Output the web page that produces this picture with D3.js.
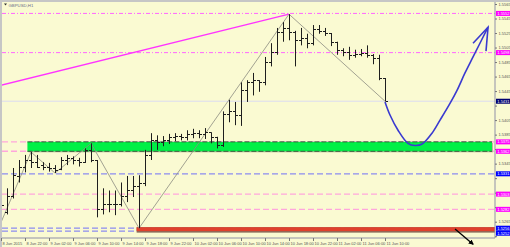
<!DOCTYPE html>
<html>
<head>
<meta charset="utf-8">
<script src="https://cdn.jsdelivr.net/npm/d3@7"></script>
<style>
  html, body { margin: 0; padding: 0; background: #fafad2; }
  svg { display: block; }
  .tick text { font-family: "Liberation Sans", sans-serif; font-size: 4px; fill: #555; }
</style>
</head>
<body>
<div id="chart"></div>
<script>
// ========== DATA (GBPUSD H1, 8 Jun 18:00 -> 11 Jun 10:00) ==========
const opens  = [1.5274,1.5278,1.5300,1.5328,1.5341,1.5350,1.5347,1.5343,1.5340,1.5339,
                1.5337,1.5350,1.5353,1.5350,1.5347,1.5364,1.5350,1.5283,1.5289,1.5290,
                1.5289,1.5300,1.5308,1.5314,1.5319,1.5357,1.5377,1.5375,1.5377,1.5382,
                1.5383,1.5382,1.5386,1.5387,1.5386,1.5388,1.5382,1.5370,1.5413,1.5417,
                1.5412,1.5446,1.5457,1.5460,1.5457,1.5485,1.5499,1.5526,1.5532,1.5526,
                1.5515,1.5518,1.5511,1.5531,1.5528,1.5525,1.5513,1.5502,1.5499,1.5495,
                1.5496,1.5497,1.5495,1.5491,1.5463];
const highs  = [1.5294,1.5311,1.5339,1.5350,1.5357,1.5361,1.5357,1.5347,1.5346,1.5343,
                1.5354,1.5357,1.5355,1.5353,1.5366,1.5373,1.5350,1.5311,1.5308,1.5308,
                1.5319,1.5328,1.5328,1.5329,1.5364,1.5387,1.5384,1.5383,1.5386,1.5387,
                1.5386,1.5391,1.5393,1.5391,1.5394,1.5388,1.5382,1.5417,1.5433,1.5430,
                1.5457,1.5460,1.5470,1.5460,1.5492,1.5511,1.5532,1.5540,1.5551,1.5528,
                1.5532,1.5524,1.5536,1.5536,1.5532,1.5525,1.5513,1.5504,1.5506,1.5502,
                1.5503,1.5508,1.5496,1.5495,1.5463];
const lows   = [1.5264,1.5275,1.5297,1.5319,1.5333,1.5339,1.5339,1.5336,1.5334,1.5332,
                1.5336,1.5343,1.5344,1.5341,1.5346,1.5347,1.5271,1.5275,1.5278,1.5274,
                1.5286,1.5292,1.5299,1.5256,1.5314,1.5350,1.5364,1.5369,1.5372,1.5376,
                1.5377,1.5377,1.5380,1.5380,1.5379,1.5373,1.5366,1.5368,1.5402,1.5398,
                1.5397,1.5430,1.5439,1.5444,1.5453,1.5479,1.5495,1.5513,1.5515,1.5479,
                1.5508,1.5504,1.5508,1.5524,1.5521,1.5507,1.5495,1.5493,1.5488,1.5491,
                1.5493,1.5491,1.5482,1.5460,1.5431];
const closes = [1.5288,1.5300,1.5329,1.5341,1.5350,1.5347,1.5341,1.5340,1.5339,1.5336,
                1.5350,1.5353,1.5350,1.5347,1.5364,1.5350,1.5283,1.5289,1.5290,1.5289,
                1.5300,1.5308,1.5314,1.5319,1.5357,1.5377,1.5375,1.5377,1.5382,1.5383,
                1.5382,1.5386,1.5387,1.5386,1.5388,1.5382,1.5370,1.5413,1.5417,1.5412,
                1.5446,1.5457,1.5460,1.5457,1.5485,1.5499,1.5526,1.5532,1.5526,1.5515,
                1.5518,1.5511,1.5531,1.5528,1.5525,1.5513,1.5502,1.5499,1.5495,1.5496,
                1.5497,1.5495,1.5491,1.5463,1.5431];

// time axis (every 4th bar)
const timeTickIdx = [0,4,8,12,16,20,24,28,32,36,40,44,48,52,56,60,64];
const timeLabels  = ["8 Jun 2015","8 Jun 22:00","9 Jun 02:00","9 Jun 06:00","9 Jun 10:00",
                     "9 Jun 14:00","9 Jun 18:00","9 Jun 22:00","10 Jun 02:00","10 Jun 06:00",
                     "10 Jun 10:00","10 Jun 14:00","10 Jun 18:00","10 Jun 22:00","11 Jun 02:00",
                     "11 Jun 06:00","11 Jun 10:00"];

// price axis
const priceTicks = [1.5245,1.5265,1.5285,1.5305,1.5325,1.5345,1.5365,1.5385,1.5405,
                    1.5425,1.5445,1.5465,1.5485,1.5505,1.5525,1.5545,1.5565];

// horizontal levels
const dashDotLevels = [1.5552, 1.5498];
const pinkLevels    = [1.5375, 1.5362, 1.5303, 1.5282];
const blueLevels    = [1.5331, 1.5256, 1.5252];
const bidLevel      = 1.5431;

// zones [top, bottom, startIndex]
const greenZone = [1.5375, 1.5362, 4.4];
const redZone   = [1.5256, 1.5252, 22.6];

// zigzag swing points [index, price]
const zigzag = [[0,1.5264],[5,1.5361],[9,1.5332],[15,1.5373],[23,1.5256],[48,1.5551],[64,1.5431]];

// magenta trendline [index, price]
const trendline = [[-1,1.5451],[48,1.5551]];

// hand-drawn forecast curve + arrowhead [index, price]
const forecast = [[64,1.5430],[64.83,1.5412],[66.17,1.5391],[67.83,1.5373],[69,1.5370],
                  [70.17,1.5372],[71.83,1.5387],[73.17,1.5405],[74.83,1.5428],[76,1.5446],
                  [77.33,1.5470],[78.67,1.5492],[81.17,1.5533]];
const forecastHead = [[78.67,1.5511],[81.17,1.5533],[80.83,1.5500]];

// black arrow below the red zone
const downArrow = [[75.67,1.5255],[78.67,1.5234]];

// right-axis price labels [price, colour]
const levelTags = [[1.5552,"#ff00ff"],[1.5498,"#ff00ff"],[1.5431,"#000070"],
                   [1.5375,"#ff00ff"],[1.5362,"#ff00ff"],[1.5331,"#0000ff"],
                   [1.5303,"#ff00ff"],[1.5282,"#ff00ff"],[1.5256,"#0000ff"],[1.5252,"#0000ff"]];

// ========== SET UP ==========
const width = 510, height = 247;
const plot = {left: 2, top: 2, right: 495, bottom: 238};

const svg = d3.select("#chart").append("svg")
    .attr("width", width).attr("height", height);

svg.append("rect").attr("width", width).attr("height", height).attr("fill", "#fafad2");

const xScale = d3.scaleLinear().domain([0, 82.33]).range([1, 495]);
const yScale = d3.scaleLinear().domain([1.5245, 1.5565]).range([236.2, 4]);

svg.append("clipPath").attr("id", "plotclip")
    .append("rect")
    .attr("x", plot.left).attr("y", plot.top)
    .attr("width", plot.right - plot.left).attr("height", plot.bottom - plot.top);

const inner = svg.append("g").attr("clip-path", "url(#plotclip)");

// ========== LEVEL LINES ==========
const hline = (p, color, dash, w) => inner.append("line")
    .attr("x1", plot.left).attr("x2", plot.right)
    .attr("y1", yScale(p)).attr("y2", yScale(p))
    .attr("stroke", color).attr("stroke-width", w)
    .attr("stroke-dasharray", dash);

hline(bidLevel, "#dcdcf0", null, 1);
dashDotLevels.forEach(p => hline(p, "#ff66ff", "4,2,1,2", 1));
pinkLevels.forEach(p => hline(p, "#ffa6dc", "6,3", 1.4));
blueLevels.forEach(p => hline(p, "#8c8cf0", "6,3", 1.2));

// ========== ZONES ==========
// green zone: filled band with a soft shadow and dashed dark edges
{
    const x0 = xScale(greenZone[2]), x1 = plot.right - 3;
    const y0 = yScale(greenZone[0]), y1 = yScale(greenZone[1]);
    inner.append("rect")
        .attr("x", x0 + 1).attr("y", y0 + 1)
        .attr("width", x1 - x0).attr("height", y1 - y0)
        .attr("fill", "#b8b89a");
    inner.append("rect")
        .attr("x", x0).attr("y", y0)
        .attr("width", x1 - x0).attr("height", y1 - y0)
        .attr("fill", "#00f046");
    [y0, y1].forEach(y => inner.append("line")
        .attr("x1", x0).attr("x2", x1).attr("y1", y).attr("y2", y)
        .attr("stroke", "#3c5a3c").attr("stroke-width", 1)
        .attr("stroke-dasharray", "5,2"));
}

// red zone: solid band with darker lower edge
{
    const x0 = xScale(redZone[2]), x1 = plot.right;
    const y0 = yScale(redZone[0]), y1 = yScale(redZone[1]);
    inner.append("rect")
        .attr("x", x0).attr("y", y0 - 1)
        .attr("width", x1 - x0).attr("height", y1 - y0 + 2.5)
        .attr("fill", "#8a6a5a");
    inner.append("rect")
        .attr("x", x0).attr("y", y0 - 1)
        .attr("width", x1 - x0).attr("height", y1 - y0 + 1)
        .attr("fill", "#e0402c");
}

// ========== TRENDLINE & ZIGZAG ==========
const line = d3.line().x(d => xScale(d[0])).y(d => yScale(d[1]));

inner.append("path").datum(trendline).attr("d", line)
    .attr("fill", "none").attr("stroke", "#ff33ff").attr("stroke-width", 1.3);

inner.append("path").datum(zigzag).attr("d", line)
    .attr("fill", "none").attr("stroke", "#8c8c80").attr("stroke-width", 0.8);

// ========== OHLC BARS ==========
const bars = d3.range(opens.length);
const barG = inner.append("g").attr("stroke", "#1e1e1e").attr("stroke-width", 1);
const bx = i => Math.round(xScale(i)) + 0.5;
const by = v => Math.round(yScale(v)) + 0.5;

barG.selectAll("line.hl").data(bars).join("line").attr("class", "hl")
    .attr("x1", bx).attr("x2", bx)
    .attr("y1", i => yScale(highs[i])).attr("y2", i => yScale(lows[i]));
barG.selectAll("line.op").data(bars).join("line").attr("class", "op")
    .attr("x1", i => bx(i) - 2.5).attr("x2", bx)
    .attr("y1", i => by(opens[i])).attr("y2", i => by(opens[i]));
barG.selectAll("line.cl").data(bars).join("line").attr("class", "cl")
    .attr("x1", bx).attr("x2", i => bx(i) + 2.5)
    .attr("y1", i => by(closes[i])).attr("y2", i => by(closes[i]));

// ========== FORECAST CURVE ==========
inner.append("path").datum(forecast)
    .attr("d", d3.line().x(d => xScale(d[0])).y(d => yScale(d[1])).curve(d3.curveCatmullRom))
    .attr("fill", "none").attr("stroke", "#3a3ad0").attr("stroke-width", 1.6);
inner.append("path").datum(forecastHead).attr("d", line)
    .attr("fill", "none").attr("stroke", "#3a3ad0").attr("stroke-width", 1.6)
    .attr("stroke-linejoin", "miter");

// ========== FRAME ==========
svg.append("rect").attr("x", 0).attr("y", 0).attr("width", width).attr("height", 2).attr("fill", "#c6c6c6");
svg.append("rect").attr("x", 0).attr("y", 0).attr("width", 2).attr("height", height).attr("fill", "#c6c6c6");

// level tag positions, pushed apart so they stack instead of overlapping
const tagH = 5;
const tagPos = levelTags.map(([p, c]) => ({p, c, y: yScale(p)})).sort((a, b) => a.y - b.y);
for (let k = 1; k < tagPos.length; k++) {
    if (tagPos[k].y - tagPos[k - 1].y < tagH) tagPos[k].y = tagPos[k - 1].y + tagH;
}
for (let k = tagPos.length - 1; k >= 0; k--) {
    const limit = k === tagPos.length - 1 ? height - 2 - tagH / 2 : tagPos[k + 1].y - tagH;
    if (tagPos[k].y > limit) tagPos[k].y = limit;
}

// ========== AXES ==========
const rightAxis = d3.axisRight(yScale)
    .tickValues(priceTicks).tickSize(2).tickPadding(1.5)
    .tickFormat(d3.format(".4f"));
const ra = svg.append("g").attr("transform", `translate(${plot.right},0)`).call(rightAxis);
ra.select(".domain").attr("stroke", "#9090a8").attr("d", `M0,${plot.top}V${plot.bottom}`);
ra.selectAll(".tick line").attr("stroke", "#777");
// tick labels hidden behind a level tag are not drawn
ra.selectAll(".tick text")
    .filter(d => tagPos.some(t => Math.abs(t.y - yScale(d)) < tagH))
    .remove();

const bottomAxis = d3.axisBottom(xScale)
    .tickValues(timeTickIdx).tickSize(3).tickPadding(1)
    .tickFormat((d, i) => timeLabels[i]);
const ba = svg.append("g").attr("transform", `translate(0,${plot.bottom})`).call(bottomAxis);
ba.select(".domain").attr("stroke", "#9090a8").attr("d", `M${plot.left},0H${plot.right}`);
ba.selectAll(".tick line").attr("stroke", "#777");
ba.selectAll(".tick text").attr("text-anchor", "start").attr("dx", "1");

// level tags on the price axis
const tags = svg.append("g");
tagPos.forEach(t => {
    tags.append("rect").attr("x", plot.right + 1).attr("y", t.y - tagH / 2)
        .attr("width", 14).attr("height", tagH).attr("fill", t.c);
    tags.append("text").attr("x", plot.right + 2.3).attr("y", t.y + 1.4)
        .attr("font-family", "Liberation Sans, sans-serif").attr("font-size", 4)
        .attr("fill", "#ffffff").text(d3.format(".4f")(t.p));
});

// black arrow (unclipped)
svg.append("defs").append("marker").attr("id", "ah")
    .attr("viewBox", "0 0 10 10").attr("refX", 8).attr("refY", 5)
    .attr("markerWidth", 4).attr("markerHeight", 4).attr("orient", "auto")
    .append("path").attr("d", "M0,0L10,5L0,10z").attr("fill", "#000");
svg.append("path").datum(downArrow).attr("d", line)
    .attr("stroke", "#000").attr("stroke-width", 1.3).attr("marker-end", "url(#ah)");

// symbol caption
svg.append("path").attr("d", "M4,3.5L7,3.5L5.5,5.5Z").attr("fill", "#303030");
svg.append("text").attr("x", 8.5).attr("y", 6.5)
    .attr("font-family", "Liberation Sans, sans-serif").attr("font-size", 4.3)
    .attr("fill", "#6a6a88").text("GBPUSD,H1");
</script>
</body>
</html>
